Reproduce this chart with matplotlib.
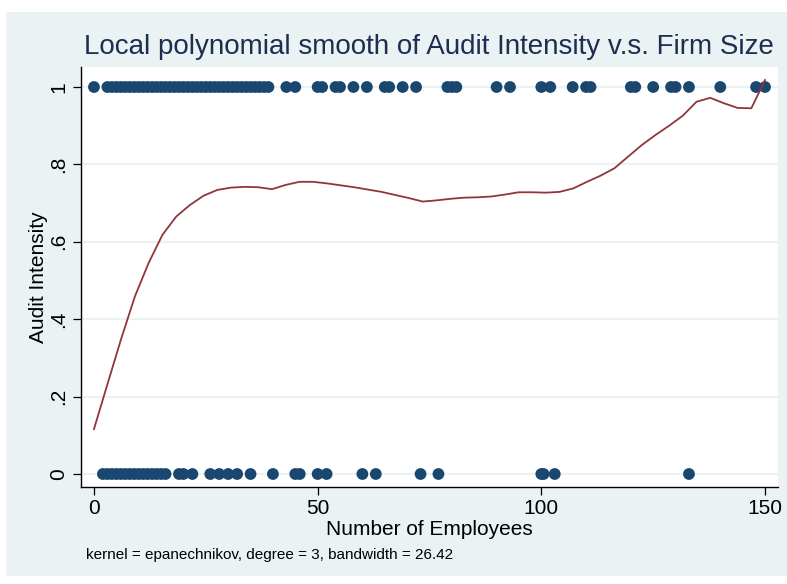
import numpy as np
import matplotlib
matplotlib.use("Agg")
import matplotlib.pyplot as plt
from matplotlib.patches import Rectangle

# Firms with audit intensity 1 (number of employees)
employees_audited = [0, 3, 4, 5, 6, 7, 8, 9, 10, 11, 12, 13, 14, 15, 16, 17, 18, 19,
                     20, 21, 22, 23, 24, 25, 26, 27, 28, 29, 30, 31, 32, 33, 34,
                     35, 36, 37, 38, 39, 43, 45, 50, 51, 54, 55, 58, 61, 65, 66,
                     69, 72, 79, 80, 81, 90, 93, 100, 102, 107, 110, 111, 120,
                     121, 125, 129, 130, 133, 140, 148, 150]
# Firms with audit intensity 0
employees_not_audited = [2, 3, 4, 5, 6, 7, 8, 9, 10, 11, 12, 13, 14, 15, 16, 19,
                         20, 22, 26, 28, 30, 32, 35, 40, 45, 46, 50, 52, 60, 63,
                         73, 77, 100, 100.5, 103, 133]

# Local polynomial smooth evaluated on a 50-point grid over [0, 150]
smooth_y = [0.116, 0.234, 0.351, 0.460, 0.546, 0.618, 0.665, 0.695, 0.719, 0.734,
            0.740, 0.742, 0.741, 0.736, 0.747, 0.755, 0.755, 0.751, 0.746, 0.741,
            0.735, 0.729, 0.721, 0.713, 0.704, 0.707, 0.711, 0.714, 0.715, 0.717,
            0.722, 0.728, 0.728, 0.727, 0.729, 0.738, 0.755, 0.771, 0.790, 0.820,
            0.850, 0.876, 0.900, 0.926, 0.962, 0.972, 0.958, 0.946, 0.945, 1.018]
smooth_x = np.linspace(0, 150, len(smooth_y))

x_ticks = [0, 50, 100, 150]
y_ticks = [0, 0.2, 0.4, 0.6, 0.8, 1.0]
y_tick_labels = ["0", ".2", ".4", ".6", ".8", "1"]

BG = "#EAF2F3"
NAVY = "#1A476F"
MAROON = "#90353B"
TITLE_COLOR = "#1E2D52"

plt.rcParams["font.family"] = ["Liberation Sans", "DejaVu Sans"]

fig = plt.figure(figsize=(7.87, 5.84), dpi=100, facecolor="white")
bg = Rectangle((6 / 787, 8 / 584), 1 - 6 / 787, 1 - 20 / 584,
               transform=fig.transFigure, facecolor=BG, edgecolor="none",
               zorder=-10)
fig.add_artist(bg)

ax = fig.add_axes([81 / 787, 97 / 584, 697 / 787, 420 / 584])
ax.set_zorder(1)
ax.set_facecolor("white")

for yv in y_ticks:
    ax.axhline(yv, color=BG, lw=1.6, zorder=1)

ax.scatter(employees_audited, np.ones(len(employees_audited)), s=72,
           color=NAVY, edgecolors="none", zorder=3)
ax.scatter(employees_not_audited, np.zeros(len(employees_not_audited)), s=72,
           color=NAVY, edgecolors="none", zorder=3)
ax.plot(smooth_x, smooth_y, color=MAROON, lw=1.3, zorder=4)

ax.set_xlim(-2.9, 152.9)
ax.set_ylim(-0.0336, 1.0517)

for s in ["top", "right"]:
    ax.spines[s].set_visible(False)
for s in ["left", "bottom"]:
    ax.spines[s].set_color("black")
    ax.spines[s].set_linewidth(1.0)

ax.set_xticks(x_ticks)
ax.set_xticklabels([str(v) for v in x_ticks])
ax.set_yticks(y_ticks)
ax.set_yticklabels(y_tick_labels, rotation=90, va="center")
ax.tick_params(axis="both", direction="out", length=6, width=0.9,
               colors="black", labelsize=15, pad=3)

ax.set_xlabel("Number of Employees", fontsize=15, labelpad=1)
ax.set_ylabel("Audit Intensity", fontsize=15, labelpad=1)

fig.text(0.5 * (80 + 778) / 787, 1 - 47 / 584,
         "Local polynomial smooth of Audit Intensity v.s. Firm Size",
         ha="center", va="center", fontsize=20, color=TITLE_COLOR)
fig.text(86 / 787, 1 - 555 / 584,
         "kernel = epanechnikov, degree = 3, bandwidth = 26.42",
         ha="left", va="center", fontsize=11, color="black")

fig.savefig("out.png", dpi=100, facecolor="white")
